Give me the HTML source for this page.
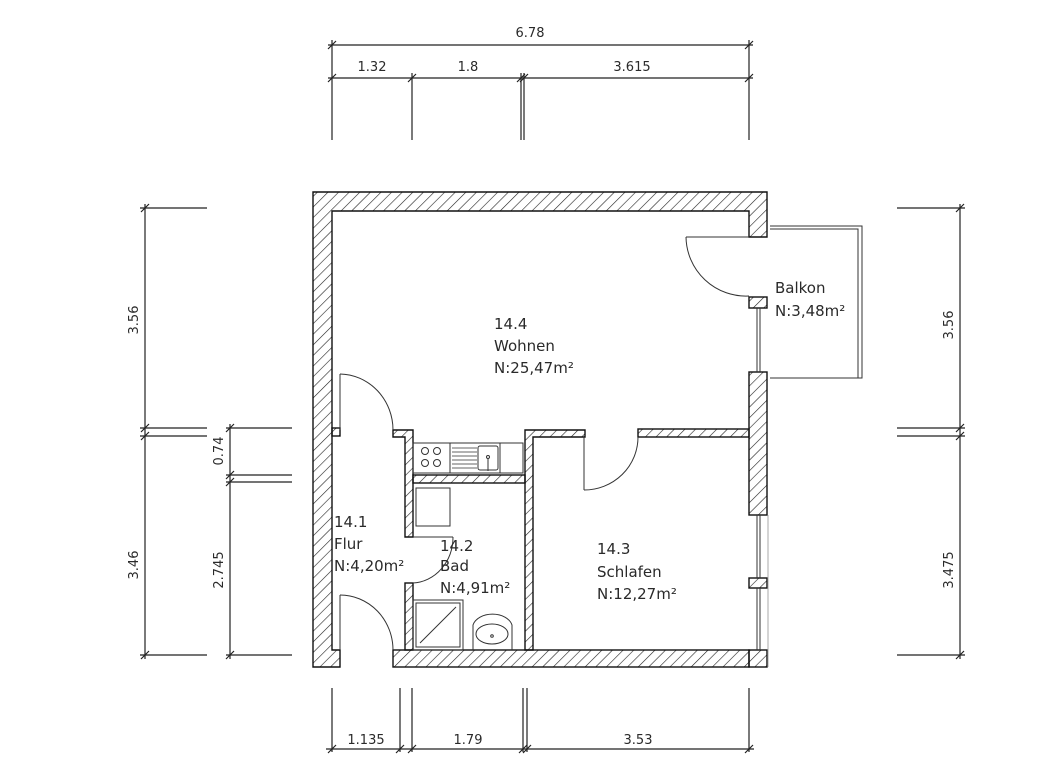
<!DOCTYPE html>
<html><head><meta charset="utf-8"><style>
html,body{margin:0;padding:0;background:#fff;}
svg{display:block;}
text{font-family:"DejaVu Sans","Liberation Sans",sans-serif;fill:#2a2a2a;}
</style></head><body>
<svg width="1058" height="774" viewBox="0 0 1058 774" xmlns="http://www.w3.org/2000/svg">
<defs>
<pattern id="h" patternUnits="userSpaceOnUse" width="7.5" height="7.5" patternTransform="rotate(45)">
<line x1="0" y1="0" x2="0" y2="7.5" stroke="#222" stroke-width="1.2"/>
</pattern>
</defs>
<rect width="1058" height="774" fill="#fff"/>
<g fill="url(#h)" stroke="#111" stroke-width="1.4">
<path d="M313 192 H767 V237 H749 V211 H332 V650 H340 V667 H313 Z"/>
<rect x="749" y="297" width="18" height="11"/>
<rect x="749" y="372" width="18" height="143"/>
<rect x="749" y="578" width="18" height="10"/>
<rect x="749" y="650" width="18" height="17"/>
<rect x="393" y="650" width="356" height="17"/>
<rect x="332" y="428" width="8" height="8"/>
<path d="M393 430 H413 V537 H405 V437 H393 Z"/>
<rect x="405" y="583" width="8" height="67"/>
<rect x="413" y="475" width="112" height="8"/>
<path d="M525 430 H585 V437 H533 V650 H525 Z"/>
<rect x="638" y="429" width="111" height="8"/>
</g>
<g fill="none" stroke="#333" stroke-width="1">
<line x1="757" y1="308" x2="757" y2="372"/><line x1="760" y1="308" x2="760" y2="372"/>
<line x1="757" y1="515" x2="757" y2="578"/><line x1="760" y1="515" x2="760" y2="578"/>
<line x1="757" y1="588" x2="757" y2="650"/><line x1="760" y1="588" x2="760" y2="650"/>
<line x1="768" y1="515" x2="768" y2="667" stroke="#aaa"/>
<line x1="686" y1="237" x2="749" y2="237"/>
<path d="M686 237 A60 60 0 0 0 749 296"/>
<line x1="340" y1="374" x2="340" y2="430"/>
<path d="M340 374 A54 56 0 0 1 393 430"/>
<line x1="340" y1="595" x2="340" y2="650"/>
<path d="M340 595 A53 55 0 0 1 393 650"/>
<line x1="413" y1="537" x2="453" y2="537"/>
<path d="M453 537 A42 46 0 0 1 413 583"/>
<line x1="584" y1="437" x2="584" y2="490"/>
<path d="M584 490 A54 53 0 0 0 638 437"/>
<path d="M770 226 H862 V378 H770"/>
<path d="M770 229 H858 V378"/>
<rect x="413" y="443" width="110" height="30"/>
<line x1="450" y1="443" x2="450" y2="473"/>
<line x1="500" y1="443" x2="500" y2="473"/>
<circle cx="425" cy="451" r="3.5"/><circle cx="437" cy="451" r="3.5"/>
<circle cx="425" cy="463" r="3.5"/><circle cx="437" cy="463" r="3.5"/>
<g stroke-width="0.8"><line x1="452" y1="448" x2="477" y2="448"/><line x1="452" y1="452" x2="477" y2="452"/><line x1="452" y1="456" x2="477" y2="456"/><line x1="452" y1="460" x2="477" y2="460"/><line x1="452" y1="464" x2="477" y2="464"/><line x1="452" y1="468" x2="477" y2="468"/></g>
<rect x="478" y="446" width="20" height="24" rx="2"/>
<circle cx="488" cy="457" r="1.5"/><line x1="488" y1="459" x2="488" y2="471"/>
<rect x="416" y="488" width="34" height="38"/>
<rect x="413" y="600" width="50" height="50"/><rect x="416" y="603" width="44" height="44"/>
<line x1="420" y1="643" x2="456" y2="607"/>
<path d="M473 650 V625 A20 14 0 0 1 512 625 V650"/>
<ellipse cx="492" cy="634" rx="16" ry="10"/>
<circle cx="492" cy="636" r="1.3"/>
</g>
<g font-size="15">
<text x="494" y="329">14.4</text><text x="494" y="351">Wohnen</text><text x="494" y="373">N:25,47m²</text>
<text x="775" y="293">Balkon</text><text x="775" y="316">N:3,48m²</text>
<text x="334" y="527">14.1</text><text x="334" y="549">Flur</text><text x="334" y="571">N:4,20m²</text>
<text x="440" y="551">14.2</text><text x="440" y="571">Bad</text><text x="440" y="593">N:4,91m²</text>
<text x="597" y="554">14.3</text><text x="597" y="577">Schlafen</text><text x="597" y="599">N:12,27m²</text>
</g>
<g stroke="#222" stroke-width="1.2" fill="none">
<line x1="328" y1="45" x2="753" y2="45"/>
<line x1="328" y1="78" x2="753" y2="78"/>
<line x1="332" y1="40" x2="332" y2="140"/><line x1="412" y1="73" x2="412" y2="140"/>
<line x1="521" y1="73" x2="521" y2="140"/><line x1="524" y1="73" x2="524" y2="140"/>
<line x1="749" y1="40" x2="749" y2="140"/>
<path d="M328 49 L336 41 M745 49 L753 41 M328 82 L336 74 M408 82 L416 74 M517 82 L525 74 M520 82 L528 74 M745 82 L753 74"/>
<line x1="145" y1="204" x2="145" y2="659"/>
<line x1="140" y1="208" x2="207" y2="208"/><line x1="140" y1="428" x2="207" y2="428"/><line x1="140" y1="436" x2="207" y2="436"/><line x1="140" y1="655" x2="207" y2="655"/>
<path d="M141 212 L149 204 M141 432 L149 424 M141 440 L149 432 M141 659 L149 651"/>
<line x1="230" y1="424" x2="230" y2="659"/>
<line x1="226" y1="428" x2="292" y2="428"/><line x1="226" y1="475" x2="292" y2="475"/><line x1="226" y1="482" x2="292" y2="482"/><line x1="226" y1="655" x2="292" y2="655"/>
<path d="M226 432 L234 424 M226 479 L234 471 M226 486 L234 478 M226 659 L234 651"/>
<line x1="960" y1="204" x2="960" y2="659"/>
<line x1="897" y1="208" x2="965" y2="208"/><line x1="897" y1="428" x2="965" y2="428"/><line x1="897" y1="436" x2="965" y2="436"/><line x1="897" y1="655" x2="965" y2="655"/>
<path d="M956 212 L964 204 M956 432 L964 424 M956 440 L964 432 M956 659 L964 651"/>
<line x1="326" y1="749" x2="754" y2="749"/>
<line x1="332" y1="688" x2="332" y2="752"/><line x1="400" y1="688" x2="400" y2="752"/><line x1="412" y1="688" x2="412" y2="752"/>
<line x1="523" y1="688" x2="523" y2="752"/><line x1="527" y1="688" x2="527" y2="752"/><line x1="749" y1="688" x2="749" y2="752"/>
<path d="M328 753 L336 745 M396 753 L404 745 M408 753 L416 745 M519 753 L527 745 M523 753 L531 745 M745 753 L753 745"/>
</g>
<g font-size="13">
<text x="530" y="37" text-anchor="middle">6.78</text>
<text x="372" y="71" text-anchor="middle">1.32</text>
<text x="468" y="71" text-anchor="middle">1.8</text>
<text x="632" y="71" text-anchor="middle">3.615</text>
<text x="366" y="744" text-anchor="middle">1.135</text>
<text x="468" y="744" text-anchor="middle">1.79</text>
<text x="638" y="744" text-anchor="middle">3.53</text>
<text transform="translate(138,320) rotate(-90)" text-anchor="middle">3.56</text>
<text transform="translate(138,565) rotate(-90)" text-anchor="middle">3.46</text>
<text transform="translate(223,451) rotate(-90)" text-anchor="middle">0.74</text>
<text transform="translate(223,570) rotate(-90)" text-anchor="middle">2.745</text>
<text transform="translate(953,325) rotate(-90)" text-anchor="middle">3.56</text>
<text transform="translate(953,570) rotate(-90)" text-anchor="middle">3.475</text>
</g>
</svg>
</body></html>
